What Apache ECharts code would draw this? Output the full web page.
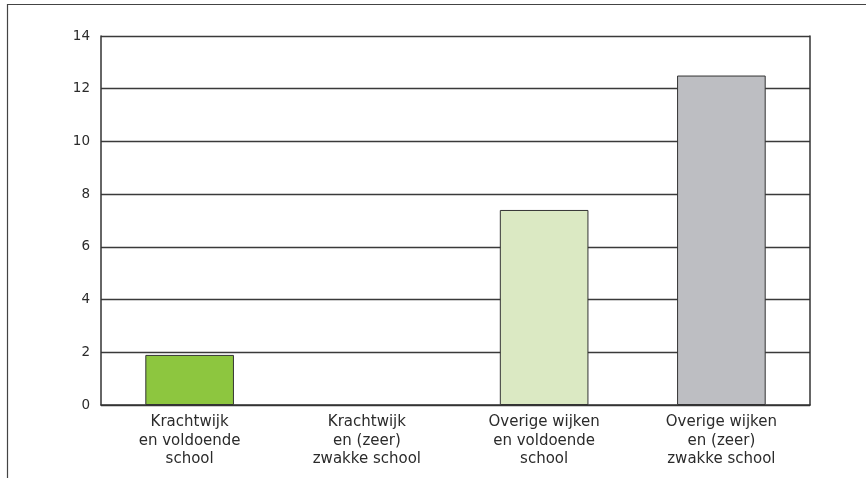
<!DOCTYPE html>
<html>
<head>
<meta charset="utf-8">
<script src="https://cdn.jsdelivr.net/npm/echarts@6/dist/echarts.min.js"></script>
<style>
html,body{margin:0;padding:0;background:#fff;}
#chart{width:866px;height:478px;}
</style>
</head>
<body>
<div id="chart"></div>
<script>
const categories = [
  "Krachtwijk\nen voldoende\nschool",
  "Krachtwijk\nen (zeer)\nzwakke school",
  "Overige wijken\nen voldoende\nschool",
  "Overige wijken\nen (zeer)\nzwakke school"
];
const values = [1.9, 0, 7.4, 12.5];
const yTicks = { min: 0, max: 14, interval: 2 };
const barColors = ["#8dc63f", "#8dc63f", "#dbe9c3", "#bdbec2"];

const chart = echarts.init(document.getElementById('chart'), null, {renderer: 'canvas'});
const font = "'DejaVu Sans', sans-serif";
chart.setOption({
  animation: false,
  backgroundColor: '#fff',
  grid: { left: 101, right: 56, top: 36, bottom: 73, containLabel: false },
  xAxis: {
    type: 'category',
    data: categories,
    axisLine: { show: true, lineStyle: { color: '#333', width: 1.5 } },
    axisTick: { show: false },
    axisLabel: { color: '#2b2b2b', fontSize: 15, fontFamily: font, lineHeight: 18.5, margin: 8, interval: 0 }
  },
  yAxis: [{
    type: 'value',
    min: yTicks.min, max: yTicks.max, interval: yTicks.interval,
    axisLine: { show: true, lineStyle: { color: '#333', width: 1.5 } },
    axisTick: { show: false },
    axisLabel: { color: '#2b2b2b', fontSize: 13.5, fontFamily: font, margin: 11 },
    splitLine: { show: true, lineStyle: { color: '#3a3a3a', width: 1.3 } }
  }, {
    type: 'value', position: 'right',
    min: yTicks.min, max: yTicks.max, interval: yTicks.interval,
    axisLine: { show: true, lineStyle: { color: '#333', width: 1.5 } },
    axisTick: { show: false }, axisLabel: { show: false }, splitLine: { show: false }
  }],
  series: [{
    type: 'bar',
    barWidth: '50%',
    data: values.map((v, i) => ({
      value: v,
      itemStyle: { color: barColors[i], borderWidth: v === 0 ? 0 : 1 }
    })),
    itemStyle: { borderColor: '#333' }
  }],
  graphic: [{
    type: 'polyline',
    shape: { points: [[7.5, 478], [7.5, 4.5], [866, 4.5]] },
    style: { stroke: '#444', lineWidth: 1.2, fill: null },
    silent: true
  }]
});
</script>
</body>
</html>
